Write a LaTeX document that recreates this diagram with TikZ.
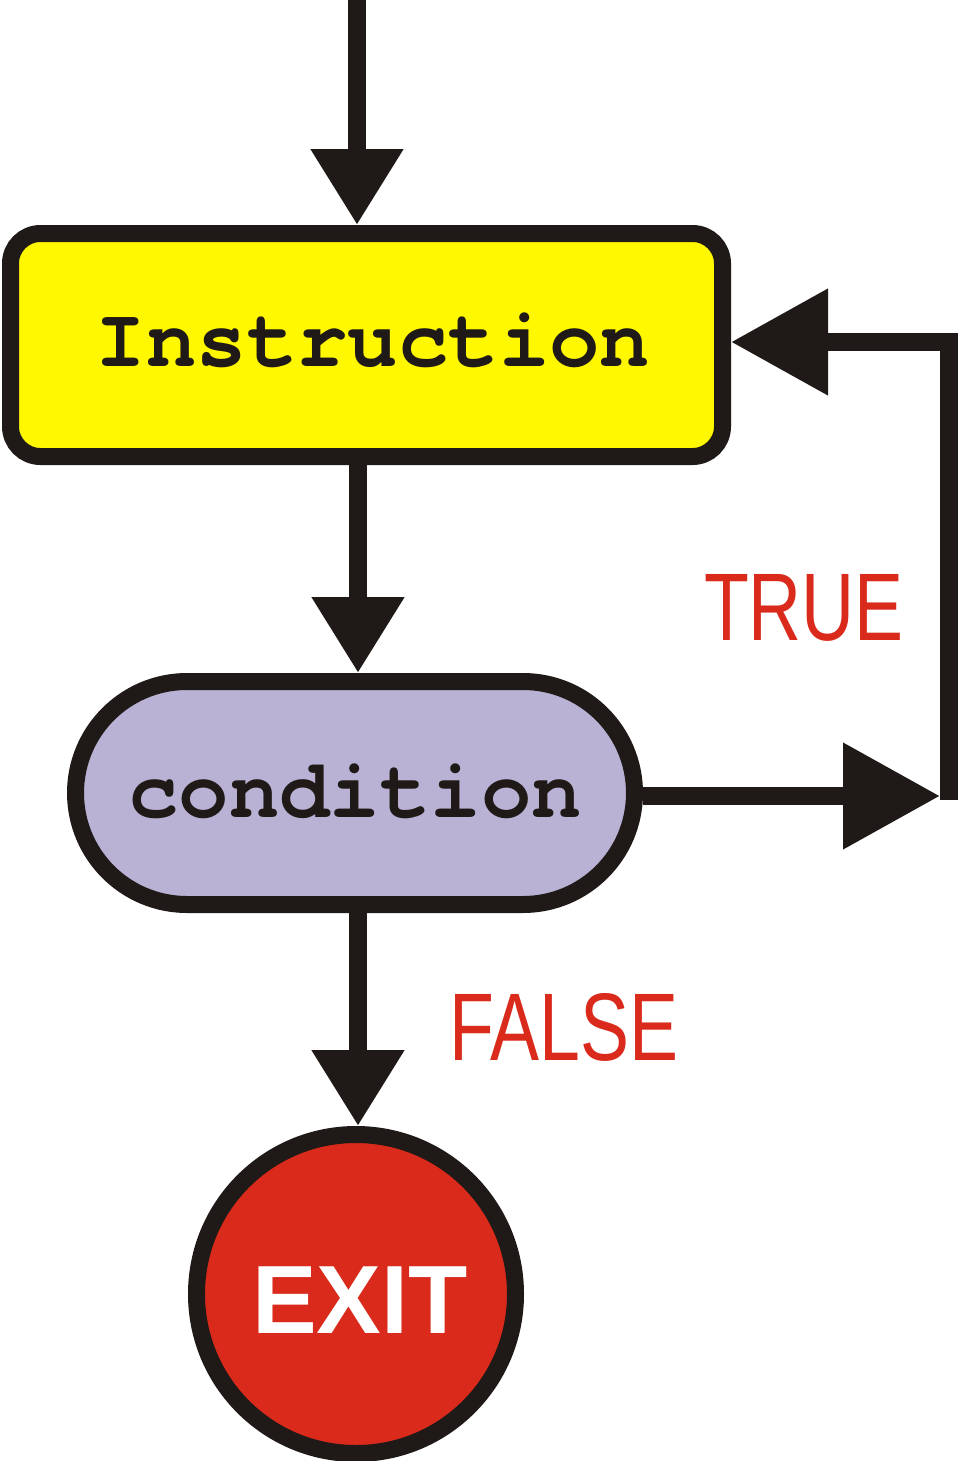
\documentclass[tikz,border=0pt]{standalone}
\usepackage{fontspec}
\usetikzlibrary{arrows.meta,shapes.misc}
\newfontfamily\monofont{TeX Gyre Cursor}
\newfontfamily\labelfont{Liberation Sans}[FakeStretch=0.765]
\newfontfamily\exitfont{Liberation Sans}
\definecolor{ink}{HTML}{1F1A17}
\definecolor{boxyellow}{HTML}{FFF800}
\definecolor{lavender}{HTML}{BAB2D5}
\definecolor{exitred}{HTML}{DA2A1C}
\tikzset{
  shapeline/.style={draw=ink, line width=17pt},
  instrbox/.style={shapeline, fill=boxyellow, rectangle, rounded corners=30pt, minimum width=712pt, minimum height=223pt, inner sep=0pt},
  condbox/.style={shapeline, fill=lavender, rounded rectangle, minimum width=559pt, minimum height=223pt, inner sep=0pt},
  exitcircle/.style={shapeline, fill=exitred, circle, minimum size=319pt, inner sep=0pt},
  conn/.style={draw=ink, line width=18pt},
  vhead/.style={-{Triangle[length=76pt,width=88pt]}},
  hhead/.style={-{Triangle[length=97pt,width=102pt]}},
  codetext/.style={anchor=base, inner sep=0pt, text=ink, font=\monofont\bfseries\fontsize{84}{84}\selectfont},
  branchtext/.style={anchor=base, inner sep=0pt, text=exitred, font=\labelfont\fontsize{96}{96}\selectfont},
}
\begin{document}
\begin{tikzpicture}[x=1pt,y=-1pt]
\useasboundingbox (0,0) rectangle (958,1461);
\fill[white] (0,0) rectangle (958,1461);
% shapes
\node[instrbox] (instr) at (366.5,345) {};
\node[condbox] (cond) at (355,793) {};
\node[exitcircle] (exit) at (356,1294) {};
% texts
\node[codetext] (instrtxt) at (373,366) {Instruction};
\node[codetext] (condtxt) at (355,817) {condition};
\node[anchor=base, inner sep=0pt, text=white, font=\exitfont\bfseries\fontsize{97}{97}\selectfont] (exittxt) at (360,1333) {EXIT};
\node[branchtext] (truetxt) at (804,640) {TRUE};
\node[branchtext] (falsetxt) at (564,1060) {FALSE};
% coordinates
\coordinate (start) at (357,0);
\coordinate (loopx) at (940,0);
\coordinate (loopbottom) at (949,800);
% connectors
\draw[conn,vhead] (start) -- (start |- instr.north);
\draw[conn,vhead] (instr.south -| 358,0) -- (cond.north -| 358,0);
\draw[conn,vhead] (cond.south -| 358,0) -- (exit.north -| 358,0);
\draw[conn,hhead] (cond.east |- 0,796) -- (loopx |- 0,796);
\draw[conn,hhead] (loopbottom) -- (loopbottom |- 0,342) -- (instr.east |- 0,342);
\end{tikzpicture}
\end{document}
